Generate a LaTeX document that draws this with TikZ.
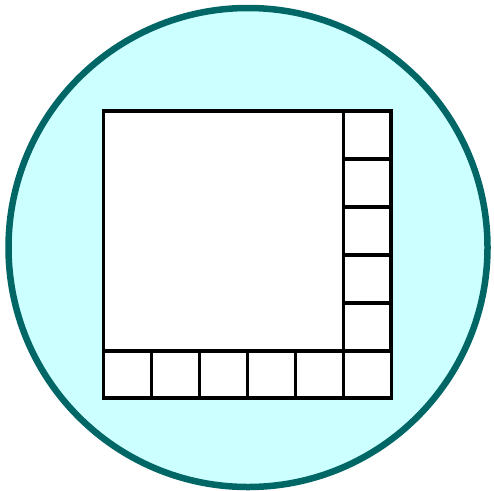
\documentclass[tikz,border=0pt]{standalone}
\usepackage{tikz}
\definecolor{rim}{HTML}{006666}
\definecolor{pool}{HTML}{CCFFFF}
\begin{document}
\begin{tikzpicture}[x=1pt, y=-1pt,
  disc/.style={draw=rim, fill=pool, line width=6.5pt},
  tile/.style={draw=black, fill=white, line width=3.2pt}]
\useasboundingbox (0,0) rectangle (494,490);
\draw[disc] (248,247.5) circle (239.5);
% big square and the L of small tiles
\draw[tile] (103.5,111) rectangle (343.5,351);
\foreach \k in {0,...,4}
  \draw[tile] (343.5,111+48*\k) rectangle (391,159+48*\k);
\foreach \k in {0,...,5}
  \draw[tile] (103.5+48*\k,351) rectangle (151.5+48*\k,398);
\end{tikzpicture}
\end{document}
